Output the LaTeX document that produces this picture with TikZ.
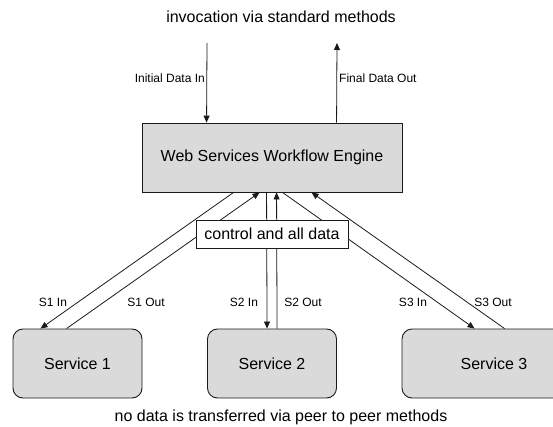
\documentclass[tikz,border=0pt]{standalone}
\usepackage{fontspec}
\setmainfont{Liberation Sans}
\usetikzlibrary{arrows.meta}
\definecolor{boxgray}{HTML}{DADADA}
\definecolor{linecol}{HTML}{1A1A1A}
\tikzset{
  big/.style={font=\fontsize{16}{19}\selectfont, text=black},
  small/.style={font=\fontsize{12}{14}\selectfont, text=black, inner sep=0pt},
  enginebox/.style={draw=linecol, line width=0.9pt, fill=boxgray, minimum width=260pt, minimum height=69pt, inner sep=0pt, big},
  servicebox/.style={draw=linecol, line width=0.9pt, fill=boxgray, rounded corners=10pt, minimum width=129pt, minimum height=69pt, inner sep=0pt, big},
  labelbox/.style={draw=linecol, line width=0.8pt, fill=white, minimum width=152pt, minimum height=28pt, inner sep=0pt, big},
  conn/.style={draw=linecol, line width=0.8pt, -{Triangle[length=7pt,width=6pt]}},
}
\begin{document}
\begin{tikzpicture}[x=1pt,y=-1pt]
\useasboundingbox (0,0) rectangle (553,427);
\clip (0,0) rectangle (553,427);
\node[big, inner sep=0pt] (top) at (281,17) {invocation via standard methods};
\node[big, inner sep=0pt] (bottom) at (281,417) {no data is transferred via peer to peer methods};
\node[enginebox] (engine) at (272,157.5) {Web Services Workflow Engine};
\node[servicebox] (s1) at (77.5,363.5) {Service 1};
\node[servicebox] (s2) at (272,363.5) {Service 2};
\node[servicebox, minimum width=184pt] (s3) at (494,363.5) {Service 3};
\coordinate (inTop) at (207,43);
\coordinate (outTop) at (337,43);
\draw[conn] (inTop) -- ([xshift=65pt]engine.north west);
\draw[conn] ([xshift=195pt]engine.north west) -- (outTop);
\node[small, anchor=east] (lin) at (205,78) {Initial Data In};
\node[small, anchor=west] (lout) at (339,78) {Final Data Out};
% service connectors
\draw[conn] ([xshift=92pt]engine.south west) -- ([xshift=28pt]s1.north west);
\draw[conn] ([xshift=54pt]s1.north west) -- ([xshift=118pt]engine.south west);
\draw[conn] ([xshift=125pt]engine.south west) -- ([xshift=60pt]s2.north west);
\draw[conn] ([xshift=70pt]s2.north west) -- ([xshift=135pt]engine.south west);
\draw[conn] ([xshift=141pt]engine.south west) -- ([xshift=73pt]s3.north west);
\draw[conn] ([xshift=103pt]s3.north west) -- ([xshift=170pt]engine.south west);
\node[labelbox] (ctrl) at (272,234) {control and all data};
\node[small] (s1in) at (53,302) {S1 In};
\node[small] (s1out) at (146,302) {S1 Out};
\node[small] (s2in) at (244,302) {S2 In};
\node[small] (s2out) at (303,302) {S2 Out};
\node[small] (s3in) at (413,302) {S3 In};
\node[small] (s3out) at (493,302) {S3 Out};
\end{tikzpicture}
\end{document}
